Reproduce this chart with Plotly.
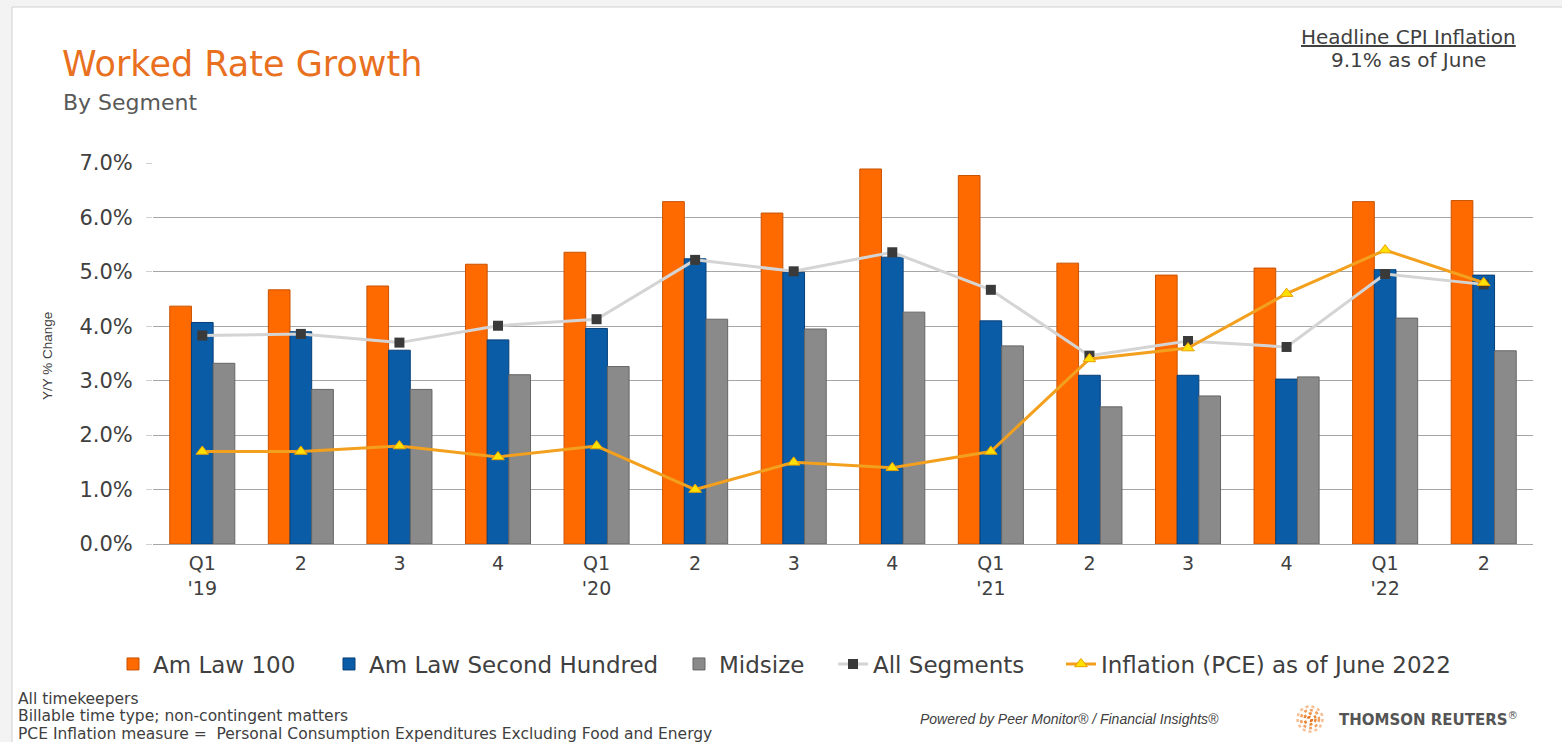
import plotly.graph_objects as go

# Quarterly year-over-year growth, in percent
quarters = ["2019 Q1", "2019 Q2", "2019 Q3", "2019 Q4",
            "2020 Q1", "2020 Q2", "2020 Q3", "2020 Q4",
            "2021 Q1", "2021 Q2", "2021 Q3", "2021 Q4",
            "2022 Q1", "2022 Q2"]
tick_labels = ["Q1<br>'19", "2", "3", "4",
               "Q1<br>'20", "2", "3", "4",
               "Q1<br>'21", "2", "3", "4",
               "Q1<br>'22", "2"]

am_law_100 = [4.37, 4.67, 4.74, 5.14, 5.36, 6.29, 6.08, 6.89, 6.77, 5.16, 4.94, 5.07, 6.29, 6.31]
am_law_second_hundred = [4.07, 3.90, 3.56, 3.75, 3.96, 5.24, 4.99, 5.27, 4.10, 3.10, 3.10, 3.03, 5.04, 4.94]
midsize = [3.32, 2.84, 2.84, 3.11, 3.26, 4.13, 3.95, 4.26, 3.64, 2.52, 2.72, 3.07, 4.15, 3.55]
all_segments = [3.83, 3.86, 3.70, 4.01, 4.13, 5.22, 5.01, 5.36, 4.67, 3.46, 3.73, 3.62, 4.96, 4.77]
inflation_pce = [1.7, 1.7, 1.8, 1.6, 1.8, 1.0, 1.5, 1.4, 1.7, 3.4, 3.6, 4.6, 5.4, 4.8]

y_ticks = [0, 1, 2, 3, 4, 5, 6, 7]

W, H = 1562, 742
ML, MR, MT, MB = 153, 29, 163, 198
PW, PH = W - ML - MR, H - MT - MB

FONT = "DejaVu Sans, Liberation Sans, sans-serif"
ARIAL = "Liberation Sans, Arial, sans-serif"
TEXT = "#404040"


def px(x):
    return (x - ML) / PW


def py(y):
    return (H - MB - y) / PH


fig = go.Figure()

fig.add_trace(go.Bar(
    x=quarters, y=am_law_100, name="Am Law 100",
    marker=dict(color="#FF6A00", line=dict(color="#C85200", width=1)),
    legendwidth=171,
))
fig.add_trace(go.Bar(
    x=quarters, y=am_law_second_hundred, name="Am Law Second Hundred",
    marker=dict(color="#0B5CA6", line=dict(color="#063F78", width=1)),
    legendwidth=305,
))
fig.add_trace(go.Bar(
    x=quarters, y=midsize, name="Midsize",
    marker=dict(color="#8A8A8A", line=dict(color="#666666", width=1)),
    legendwidth=109,
))
fig.add_trace(go.Scatter(
    x=quarters, y=all_segments, name="All Segments", mode="lines+markers",
    line=dict(color="#D4D4D4", width=3),
    marker=dict(symbol="square", size=10, color="#3A3A3A"),
    legendwidth=183,
))
fig.add_trace(go.Scatter(
    x=quarters, y=inflation_pce, name="Inflation (PCE) as of June 2022",
    mode="lines+markers",
    line=dict(color="#F2A01E", width=3),
    marker=dict(symbol="triangle-up", size=11, color="#FFE000",
                line=dict(color="#E8A000", width=1)),
))

annotations = [
    dict(text="Worked Rate Growth", x=px(60), y=py(64), xanchor="left", yanchor="middle",
         font=dict(family=FONT, size=35, color="#E8701E")),
    dict(text="By Segment", x=px(61), y=py(102), xanchor="left", yanchor="middle",
         font=dict(family=FONT, size=22, color="#595959")),
    dict(text="<u>Headline CPI Inflation</u>", x=px(1408), y=py(37), xanchor="center", yanchor="middle",
         font=dict(family=FONT, size=20, color=TEXT)),
    dict(text="9.1% as of June", x=px(1408), y=py(60), xanchor="center", yanchor="middle",
         font=dict(family=FONT, size=20, color=TEXT)),
    dict(text="Y/Y % Change", x=px(47), y=py(356), xanchor="center", yanchor="middle",
         textangle=-90, font=dict(family=ARIAL, size=13.5, color=TEXT)),
    dict(text="All timekeepers", x=px(16), y=py(699), xanchor="left", yanchor="middle",
         font=dict(family=FONT, size=15.5, color=TEXT)),
    dict(text="Billable time type; non-contingent matters", x=px(16), y=py(716), xanchor="left",
         yanchor="middle", font=dict(family=FONT, size=15.5, color=TEXT)),
    dict(text="PCE Inflation measure =  Personal Consumption Expenditures Excluding Food and Energy",
         x=px(16), y=py(734), xanchor="left", yanchor="middle",
         font=dict(family=FONT, size=15.5, color=TEXT)),
    dict(text="<i>Powered by Peer Monitor® / Financial Insights®</i>", x=px(918), y=py(719),
         xanchor="left", yanchor="middle", font=dict(family=ARIAL, size=14, color=TEXT)),
    dict(text="<b>THOMSON REUTERS</b><sup>®</sup>", x=px(1337), y=py(719), xanchor="left",
         yanchor="middle", font=dict(family=FONT, size=15, color="#555555")),
]
for a in annotations:
    a.update(xref="paper", yref="paper", showarrow=False)

shapes = [
    # slide frame
    dict(type="rect", xref="paper", yref="paper", x0=px(12), x1=px(1600), y0=py(7), y1=py(800),
         fillcolor="white", line=dict(color="#D0D0D0", width=1), layer="below"),
]
# dotted globe mark next to the logotype
for r, col in [(12.5, "#F6BE92"), (9, "#F0A060"), (5.5, "#EA8836"), (2, "#E47522")]:
    shapes.append(dict(type="circle", xref="paper", yref="paper",
                       x0=px(1310 - r), x1=px(1310 + r), y0=py(719 + r), y1=py(719 - r),
                       line=dict(color=col, width=2.5, dash="dot")))

fig.update_layout(
    width=W, height=H,
    margin=dict(l=ML, r=MR, t=MT, b=MB, pad=0),
    paper_bgcolor="#F3F3F3",
    plot_bgcolor="rgba(0,0,0,0)",
    barmode="group", bargap=0.34, bargroupgap=0,
    font=dict(family=FONT, color=TEXT),
    showlegend=True,
    legend=dict(orientation="h", x=px(113), y=py(664), xanchor="left", yanchor="middle",
                font=dict(family=FONT, size=23, color=TEXT), bgcolor="rgba(0,0,0,0)",
                traceorder="normal", itemwidth=30),
    annotations=annotations,
    shapes=shapes,
    xaxis=dict(
        type="category", range=[-0.5, len(quarters) - 0.5],
        tickmode="array", tickvals=quarters, ticktext=tick_labels,
        showgrid=False, showline=True, linecolor="#A6A6A6", linewidth=1,
        ticks="", tickfont=dict(family=FONT, size=19, color=TEXT), ticklabelstandoff=2,
    ),
    yaxis=dict(
        range=[0, 7], tickmode="array", tickvals=y_ticks,
        ticktext=[f"{v:.1f}%" for v in y_ticks],
        showgrid=True, gridcolor="#A6A6A6", gridwidth=1,
        zeroline=False, showline=False,
        ticks="outside", ticklen=6, tickcolor="#D0D0D0",
        tickfont=dict(family=FONT, size=21, color=TEXT), ticklabelstandoff=9,
    ),
)

fig.write_html("out.html")
